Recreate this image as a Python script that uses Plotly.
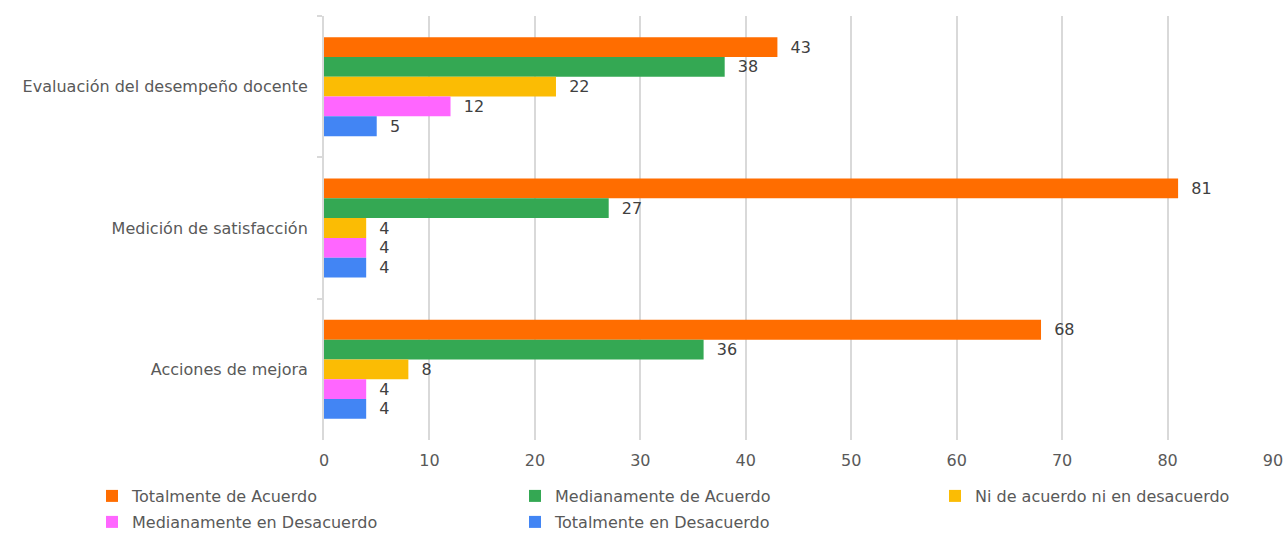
import plotly.graph_objects as go

categories = ["Evaluación del desempeño docente", "Medición de satisfacción", "Acciones de mejora"]
series_names = ["Totalmente de Acuerdo", "Medianamente de Acuerdo", "Ni de acuerdo ni en desacuerdo",
                "Medianamente en Desacuerdo", "Totalmente en Desacuerdo"]
totalmente_acuerdo = [43, 81, 68]
medianamente_acuerdo = [38, 27, 36]
ni_acuerdo = [22, 4, 8]
medianamente_desacuerdo = [12, 4, 4]
totalmente_desacuerdo = [5, 4, 4]
x_ticks = [0, 10, 20, 30, 40, 50, 60, 70, 80, 90]

series_values = [totalmente_acuerdo, medianamente_acuerdo, ni_acuerdo,
                 medianamente_desacuerdo, totalmente_desacuerdo]
colors = ["#FF6D00", "#34A853", "#FBBC04", "#FF66FF", "#4285F4"]

FONT = "DejaVu Sans, Liberation Sans, Arial"
FS = 16
W, H = 1286, 533
# legend placement (container px): one legend per entry, laid out in 3 columns
legend_pos = [(92, 479), (515, 479), (935, 479), (92, 505), (515, 505)]

fig = go.Figure()
for i, (name, vals, col) in enumerate(zip(series_names, series_values, colors)):
    lg = "legend" if i == 0 else f"legend{i + 1}"
    fig.add_trace(go.Bar(
        y=categories, x=vals, name=name, orientation="h",
        marker=dict(color=col, line=dict(width=0)),
        text=vals, texttemplate="  %{x}", textposition="outside",
        textfont=dict(family=FONT, size=FS, color="#404040"),
        cliponaxis=False, legend=lg,
    ))

layout_legends = {}
for i, (lx, ly) in enumerate(legend_pos):
    key = "legend" if i == 0 else f"legend{i + 1}"
    layout_legends[key] = dict(
        xref="container", yref="container",
        x=lx / W, y=1 - ly / H, xanchor="left", yanchor="top",
        itemwidth=30, bgcolor="rgba(0,0,0,0)",
        font=dict(family=FONT, size=FS, color="#595959"),
    )

fig.update_layout(
    width=W, height=H,
    margin=dict(l=324, r=13, t=16, b=93, autoexpand=False),
    paper_bgcolor="white", plot_bgcolor="white",
    barmode="group", bargap=0.3, bargroupgap=0,
    font=dict(family=FONT, size=FS, color="#595959"),
    showlegend=True,
    xaxis=dict(range=[0, 90], tickvals=x_ticks, showgrid=True, gridcolor="#D9D9D9",
               gridwidth=2, zeroline=False, showline=False, ticks="", automargin=False,
               tickfont=dict(family=FONT, size=FS, color="#595959"), ticklabelstandoff=9),
    yaxis=dict(autorange="reversed", showline=True, linecolor="#D9D9D9", linewidth=2,
               ticks="outside", tickson="boundaries", ticklen=5, tickcolor="#D9D9D9",
               tickwidth=2, ticklabelstandoff=11, automargin=False,
               tickfont=dict(family=FONT, size=FS, color="#595959")),
    **layout_legends,
)

fig.write_html("out.html")
